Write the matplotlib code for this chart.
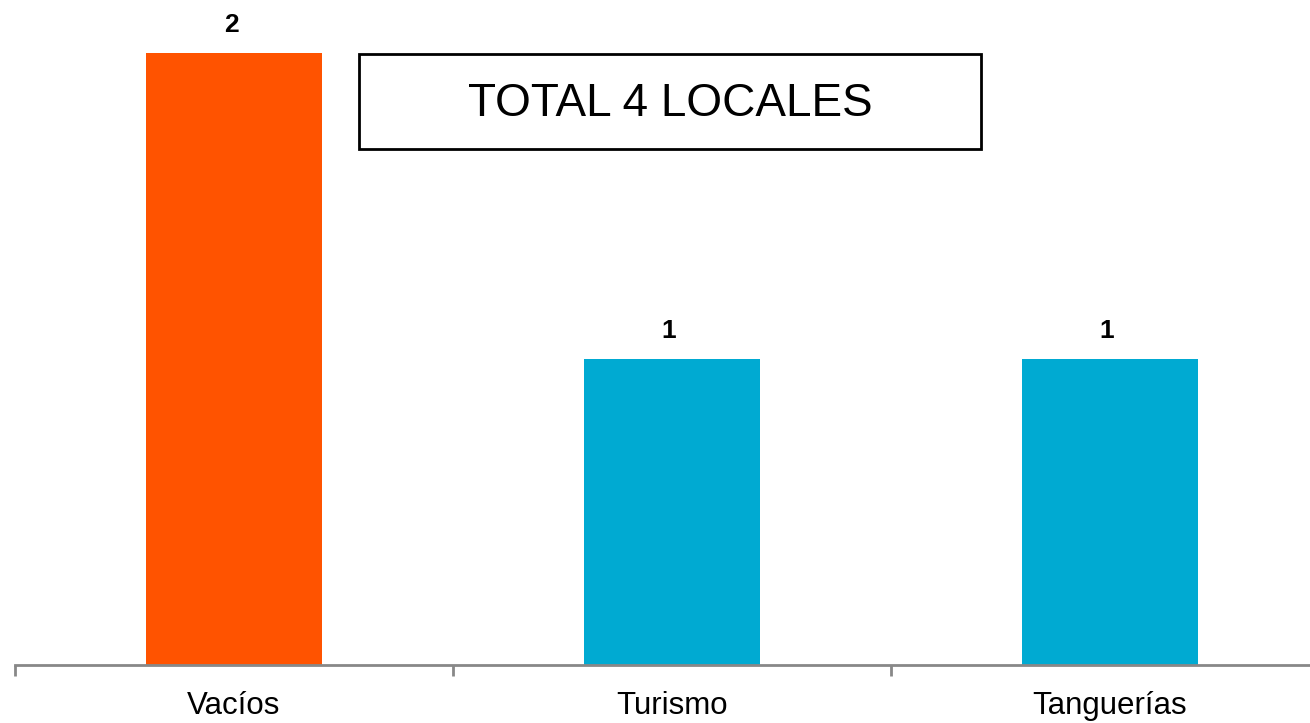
import matplotlib.pyplot as plt
from matplotlib.patches import Rectangle

categories = ["Vacíos", "Turismo", "Tanguerías"]
values = [2, 1, 1]
bar_colors = ["#FF5300", "#00AAD2", "#00AAD2"]
total_text = "TOTAL 4 LOCALES"

plt.rcParams['font.family'] = ['Liberation Sans', 'DejaVu Sans']

W, H = 1310, 723
fig = plt.figure(figsize=(W / 100, H / 100), dpi=100)

# axes placed in pixel terms; right edge runs a bit past the image like the original
left, right, bottom, top = 15, 1329, 665, 53
ax = fig.add_axes([left / W, (H - bottom) / H, (right - left) / W, (bottom - top) / H])

x = range(len(categories))
ax.bar(x, values, width=0.4, color=bar_colors)
ax.set_xlim(-0.5, 2.5)
ax.set_ylim(0, 2)

for i, v in enumerate(values):
    ax.annotate(str(v), (i, v), xytext=(-3, 28), textcoords="offset pixels",
                ha="center", va="center", fontsize=19, fontweight="bold")

for s in ["top", "right", "left"]:
    ax.spines[s].set_visible(False)
ax.spines["bottom"].set_color("#888888")
ax.spines["bottom"].set_linewidth(2)
ax.set_yticks([])
ax.set_xticks(list(x))
ax.set_xticklabels(categories, fontsize=22.5)
ax.tick_params(axis="x", which="major", length=0, pad=19)
ax.set_xticks([-0.5, 0.5, 1.5, 2.5], minor=True)
ax.tick_params(axis="x", which="minor", length=8, width=2, color="#888888", direction="out")

# boxed total label
fig.patches.append(Rectangle((359 / W, (H - 149) / H), (981 - 359) / W, (149 - 54) / H,
                             transform=fig.transFigure, fill=False, edgecolor="black",
                             linewidth=2))
fig.text(670 / W, (H - 104) / H, total_text, ha="center", va="center", fontsize=33)

fig.savefig("out.png", dpi=100)
